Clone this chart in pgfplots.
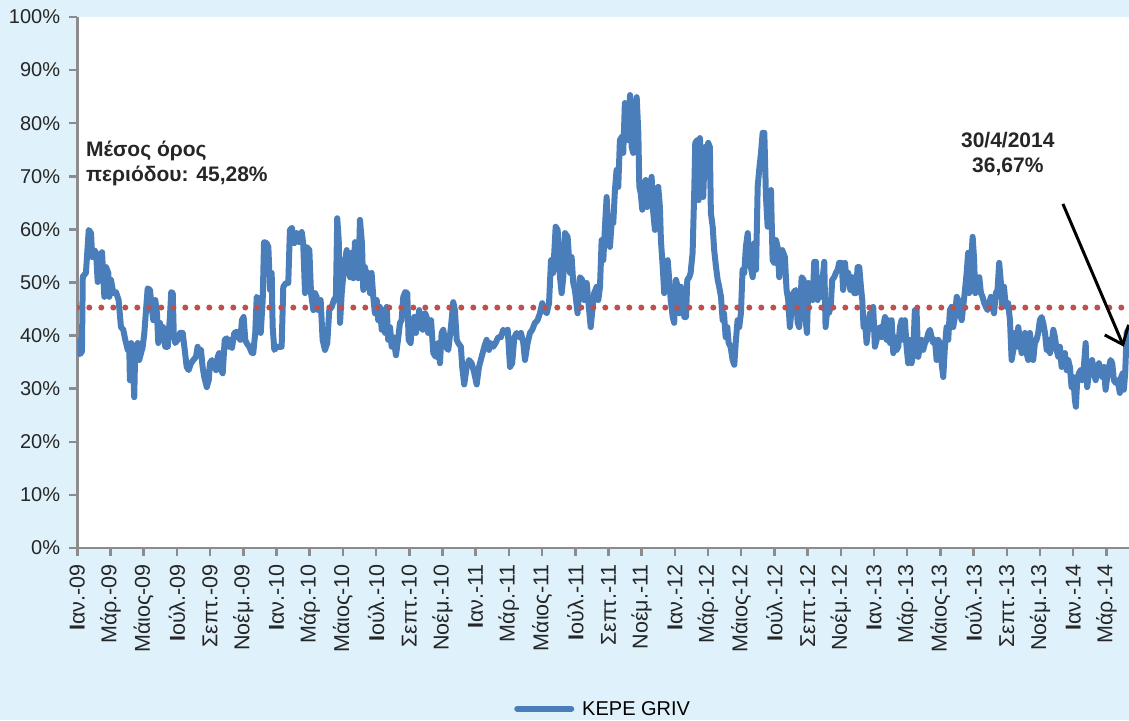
\documentclass[border=0pt]{standalone}
\usepackage{pgfplots}
\pgfplotsset{compat=1.18}
\usepackage{fontspec}
\setmainfont{Liberation Sans}
\usetikzlibrary{arrows.meta}
\definecolor{pagebg}{HTML}{DFF1FA}
\definecolor{griv}{HTML}{4A7EBB}
\definecolor{avgred}{HTML}{C0504D}
\definecolor{axisgray}{HTML}{8C8C8C}

% KEPE GRIV, months since 1 Jan 2009 vs. implied volatility (%)
\pgfplotstableread{
m v
0.04 39.5
0.16 36.5
0.28 37.0
0.33 51.1
0.52 51.8
0.69 59.9
0.83 59.3
0.89 54.8
1.02 56.1
1.13 55.6
1.23 50.1
1.33 54.6
1.49 55.7
1.63 47.3
1.73 52.9
1.87 51.8
1.93 47.3
2.03 50.5
2.17 48.0
2.33 48.2
2.49 46.7
2.63 41.6
2.77 41.1
2.89 39.2
3.04 37.3
3.13 37.9
3.17 31.6
3.25 38.6
3.34 36.0
3.43 28.4
3.49 37.3
3.64 38.6
3.73 35.4
3.84 36.7
3.94 37.9
4.04 40.5
4.14 44.8
4.24 48.9
4.38 48.6
4.50 44.8
4.58 42.9
4.70 46.7
4.80 44.2
4.88 38.6
4.98 42.4
5.10 39.2
5.18 41.6
5.30 37.9
5.45 37.9
5.58 43.5
5.66 48.2
5.75 48.0
5.81 40.5
5.90 38.6
6.05 39.2
6.19 40.5
6.35 40.5
6.45 37.9
6.59 34.1
6.71 33.5
6.85 34.8
6.99 35.4
7.15 36.0
7.25 37.9
7.35 36.7
7.45 37.3
7.55 34.1
7.65 32.2
7.80 30.3
7.92 31.6
7.99 34.8
8.11 35.4
8.25 34.1
8.36 33.5
8.46 36.0
8.55 36.7
8.66 33.5
8.76 32.9
8.88 39.2
9.00 39.5
9.12 37.9
9.20 39.2
9.32 37.7
9.46 40.5
9.60 40.7
9.72 39.7
9.82 39.2
9.92 42.9
10.02 43.5
10.12 39.2
10.20 38.6
10.36 37.9
10.52 36.7
10.60 36.7
10.72 40.5
10.81 47.3
10.96 46.7
11.05 40.5
11.17 46.7
11.25 57.6
11.41 57.4
11.51 56.7
11.61 48.6
11.71 51.8
11.77 41.6
11.87 37.3
12.01 37.9
12.17 37.9
12.31 37.9
12.41 49.2
12.57 49.9
12.71 49.9
12.81 59.9
12.93 60.3
13.07 57.4
13.22 59.3
13.37 57.6
13.52 59.5
13.61 57.4
13.72 48.0
13.82 56.7
13.98 56.1
14.08 48.0
14.22 44.8
14.32 48.0
14.42 47.3
14.52 44.8
14.66 46.7
14.78 39.2
14.92 37.3
15.06 38.6
15.18 44.8
15.33 45.4
15.46 46.7
15.58 47.3
15.66 62.1
15.75 58.0
15.83 42.4
15.93 48.0
16.07 52.9
16.23 56.1
16.33 52.9
16.43 51.0
16.53 55.6
16.63 50.8
16.73 57.6
16.83 54.8
16.93 50.8
17.03 61.8
17.15 57.4
17.23 48.6
17.33 52.9
17.43 51.0
17.53 51.8
17.63 48.0
17.73 51.8
17.83 47.3
17.93 44.2
18.04 46.7
18.13 42.9
18.23 45.4
18.34 41.1
18.43 44.8
18.54 40.5
18.64 45.4
18.73 39.2
18.84 41.6
18.94 37.9
19.04 39.7
19.20 36.3
19.34 39.7
19.44 42.4
19.54 42.9
19.64 47.3
19.76 48.2
19.88 48.0
19.96 39.2
20.08 38.6
20.20 42.9
20.30 43.5
20.40 40.5
20.51 42.9
20.60 44.8
20.70 42.4
20.81 41.1
20.95 44.2
21.05 43.5
21.14 40.5
21.31 42.9
21.45 36.7
21.59 36.0
21.75 38.6
21.85 34.8
21.95 40.5
22.05 41.1
22.19 37.9
22.35 37.3
22.51 41.6
22.65 46.3
22.75 44.8
22.86 39.2
22.95 38.6
23.11 37.9
23.19 34.1
23.31 30.8
23.46 34.1
23.60 35.4
23.76 34.8
23.92 32.9
24.06 30.8
24.20 34.1
24.36 36.0
24.52 37.9
24.66 39.2
24.80 37.3
24.92 38.6
25.06 37.9
25.20 38.6
25.36 39.7
25.52 39.7
25.66 41.1
25.81 40.5
25.93 41.1
26.07 34.1
26.20 34.8
26.33 39.7
26.47 40.5
26.61 39.7
26.73 40.5
26.87 38.6
26.97 35.4
27.13 38.6
27.27 40.5
27.41 41.1
27.57 42.4
27.73 42.9
27.87 44.2
28.01 46.1
28.13 44.8
28.28 44.2
28.42 46.1
28.54 54.2
28.67 51.8
28.82 60.5
28.94 59.9
29.08 51.0
29.18 48.0
29.28 51.0
29.38 59.3
29.54 58.6
29.68 51.8
29.78 54.8
29.88 49.9
29.98 48.6
30.14 44.2
30.28 51.0
30.42 50.5
30.54 46.7
30.69 49.9
30.78 46.7
30.93 41.6
31.05 45.4
31.14 48.0
31.29 49.2
31.39 46.7
31.49 49.2
31.59 58.0
31.69 54.2
31.79 60.5
31.89 66.1
31.99 59.3
32.09 56.7
32.19 61.2
32.29 61.2
32.39 67.4
32.49 71.2
32.59 68.0
32.69 76.8
32.80 77.4
32.89 74.4
32.99 83.8
33.10 79.3
33.19 76.8
33.30 85.3
33.40 75.5
33.49 74.4
33.60 81.9
33.70 84.9
33.80 78.2
33.86 68.0
33.94 66.9
34.04 63.7
34.14 68.0
34.24 69.3
34.34 64.2
34.46 66.1
34.60 69.9
34.70 63.1
34.80 59.9
34.90 67.4
35.00 68.0
35.10 64.2
35.16 58.0
35.27 52.9
35.36 48.0
35.46 50.5
35.57 54.2
35.66 50.5
35.75 46.7
35.87 43.5
35.96 42.4
36.07 50.5
36.17 49.2
36.26 44.2
36.37 49.2
36.47 46.7
36.57 43.5
36.67 43.5
36.75 50.5
36.87 51.0
36.95 51.8
37.07 55.6
37.17 67.4
37.23 76.3
37.35 76.8
37.43 65.5
37.51 77.2
37.61 69.9
37.71 66.1
37.81 75.5
37.92 69.9
38.01 76.3
38.11 75.5
38.17 63.1
38.28 60.5
38.37 56.1
38.48 52.9
38.58 50.5
38.67 49.2
38.78 47.3
38.88 42.9
38.96 44.2
39.06 39.7
39.16 41.6
39.24 38.6
39.36 37.9
39.48 35.4
39.58 34.5
39.68 39.2
39.78 42.9
39.88 41.6
39.98 44.2
40.08 52.4
40.18 51.8
40.28 56.7
40.39 59.3
40.48 54.2
40.58 52.9
40.69 51.0
40.78 57.4
40.89 52.4
40.99 68.0
41.08 71.2
41.19 74.4
41.29 78.2
41.39 78.2
41.49 66.1
41.59 60.5
41.69 66.9
41.79 67.4
41.89 54.2
41.99 53.7
42.09 58.0
42.19 56.7
42.29 51.0
42.47 56.1
42.63 54.8
42.73 48.6
42.83 46.7
42.93 41.6
43.03 44.8
43.13 48.0
43.28 48.6
43.40 42.4
43.49 41.6
43.64 51.0
43.76 50.5
43.88 42.9
43.96 40.5
44.04 49.9
44.20 48.6
44.30 46.7
44.40 53.9
44.50 53.9
44.60 46.7
44.70 48.6
44.80 47.3
44.90 50.5
45.00 53.9
45.08 41.6
45.18 44.8
45.28 44.2
45.39 45.4
45.48 50.5
45.60 51.0
45.70 51.8
45.81 52.4
45.90 53.7
46.05 53.7
46.14 48.6
46.25 53.7
46.35 49.9
46.45 51.8
46.57 48.6
46.69 51.0
46.81 48.0
46.91 48.0
47.01 52.9
47.11 52.9
47.21 49.2
47.29 46.7
47.37 41.6
47.45 42.9
47.55 38.6
47.65 41.6
47.75 44.2
47.86 42.4
47.95 45.4
48.05 37.9
48.16 39.2
48.25 41.1
48.35 41.6
48.46 39.7
48.55 41.6
48.66 43.5
48.76 39.2
48.86 42.9
48.96 38.6
49.06 42.9
49.16 36.7
49.26 39.7
49.36 37.3
49.46 37.9
49.56 41.6
49.66 42.9
49.76 39.2
49.86 42.9
49.96 37.9
50.06 34.8
50.16 39.2
50.26 34.8
50.36 36.7
50.46 44.8
50.56 44.8
50.66 36.0
50.77 37.9
50.87 39.2
50.96 37.3
51.07 38.6
51.17 39.2
51.27 40.5
51.37 41.1
51.47 39.7
51.57 38.6
51.67 39.2
51.77 35.4
51.87 39.2
51.97 38.6
52.07 34.8
52.17 32.2
52.27 37.9
52.37 41.6
52.47 39.2
52.57 44.8
52.67 45.4
52.77 41.6
52.87 43.5
52.98 47.3
53.07 46.7
53.17 44.2
53.28 42.9
53.37 45.4
53.48 48.6
53.58 51.8
53.67 55.6
53.73 48.0
53.82 52.4
53.94 58.6
54.02 54.8
54.10 48.0
54.22 48.6
54.34 51.0
54.44 48.0
54.54 47.3
54.64 46.1
54.74 45.4
54.84 44.8
54.94 46.1
55.04 47.3
55.14 45.4
55.23 44.2
55.34 48.0
55.44 48.6
55.54 53.7
55.63 50.5
55.72 45.4
55.83 49.2
55.90 46.7
55.99 45.4
56.08 46.1
56.19 42.9
56.29 35.4
56.39 37.3
56.49 40.5
56.59 37.9
56.69 41.6
56.79 39.2
56.89 36.7
56.99 38.6
57.09 40.5
57.19 36.7
57.29 35.4
57.39 40.5
57.49 37.9
57.59 35.4
57.69 38.6
57.79 39.2
57.89 40.5
57.99 42.9
58.10 43.5
58.19 42.4
58.30 40.5
58.40 37.3
58.49 39.2
58.60 36.7
58.70 38.6
58.80 41.1
58.90 39.7
59.00 37.3
59.10 36.0
59.20 37.9
59.30 34.1
59.40 36.0
59.50 36.7
59.60 33.5
59.70 35.4
59.80 34.1
59.90 30.3
60.00 32.2
60.10 27.9
60.16 26.6
60.24 31.6
60.34 32.9
60.45 33.5
60.54 31.6
60.64 34.1
60.75 38.6
60.84 30.3
60.95 32.9
61.05 34.1
61.14 35.4
61.25 32.9
61.35 31.6
61.45 33.5
61.55 34.8
61.65 32.9
61.75 32.2
61.85 34.1
61.95 29.8
62.05 32.2
62.15 34.1
62.25 35.4
62.35 34.8
62.45 31.6
62.55 31.1
62.65 31.6
62.75 30.3
62.81 29.2
62.89 32.2
62.98 32.9
63.05 29.8
63.13 32.9
63.22 40.5
63.30 41.1
63.97 36.67
}\grivdata

\begin{document}
\begin{tikzpicture}
\fill[pagebg] (-77.3pt,-172pt) rectangle (1051.7pt,548pt);
\begin{axis}[
  at={(0pt,0pt)}, anchor=south west,
  scale only axis, width=1051.7pt, height=531pt,
  xmin=0, xmax=63.36, ymin=0, ymax=100,
  axis x line*=bottom, axis y line*=left,
  axis line style={-, axisgray, line width=2.5pt},
  axis background/.style={fill=white},
  tick align=outside, major tick length=8pt,
  major tick style={axisgray, line width=2.5pt},
  tick label style={font=\fontsize{20}{24}\selectfont, text=black!85},
  ytick={0,10,...,100},
  yticklabels={0\%,10\%,20\%,30\%,40\%,50\%,60\%,70\%,80\%,90\%,100\%},
  yticklabel style={anchor=east, inner sep=0pt, xshift=-9pt},
  xtick={0,2,...,62},
  xticklabels={
    {\textbf{Ι}αν.-09},Μάρ.-09,Μάιος-09,{\textbf{Ι}ούλ.-09},Σεπτ.-09,Νοέμ.-09,
    {\textbf{Ι}αν.-10},Μάρ.-10,Μάιος-10,{\textbf{Ι}ούλ.-10},Σεπτ.-10,Νοέμ.-10,
    {\textbf{Ι}αν.-11},Μάρ.-11,Μάιος-11,{\textbf{Ι}ούλ.-11},Σεπτ.-11,Νοέμ.-11,
    {\textbf{Ι}αν.-12},Μάρ.-12,Μάιος-12,{\textbf{Ι}ούλ.-12},Σεπτ.-12,Νοέμ.-12,
    {\textbf{Ι}αν.-13},Μάρ.-13,Μάιος-13,{\textbf{Ι}ούλ.-13},Σεπτ.-13,Νοέμ.-13,
    {\textbf{Ι}αν.-14},Μάρ.-14},
  % the shift is taken in the rotated frame: negative x moves the label down
  xticklabel style={rotate=90, anchor=east, inner sep=0pt, xshift=-8pt,
    font=\fontsize{21.5}{25}\selectfont},
  legend style={at={(0.5,-0.303)}, anchor=center, draw=none, fill=none,
    font=\fontsize{20}{24}\selectfont,
    /tikz/every odd column/.append style={column sep=6pt}},
  legend image code/.code={\draw[#1, line cap=round] (0pt,0pt) -- (54pt,0pt);},
]
\addplot[griv, line width=6pt, line join=round] table[x=m, y=v] {\grivdata};
\addlegendentry{KEPE GRIV}
% period average
\addplot[forget plot, avgred, line width=6pt, line cap=round,
  dash pattern=on 0pt off 12pt] coordinates {(0,45.28) (63.97,45.28)};
\node[anchor=north west, inner sep=0pt, align=left,
  font=\fontsize{21}{25}\selectfont\bfseries, text=black!85]
  at (axis cs:0.52,76.6) {Μέσος όρος\\περιόδου: 45,28\%};
\node[anchor=north, inner sep=0pt, align=center,
  font=\fontsize{21}{25}\selectfont\bfseries, text=black!85]
  at (axis cs:56.06,78.4) {30/4/2014\\36,67\%};
\draw[black, line width=3pt, -{Straight Barb[length=16pt,width=26pt]}]
  (axis cs:59.38,64.8) -- (axis cs:63.05,37.9);
\end{axis}
\pgfresetboundingbox
\path (-77.3pt,-172pt) rectangle (1051.7pt,548pt);
\end{tikzpicture}
\end{document}
